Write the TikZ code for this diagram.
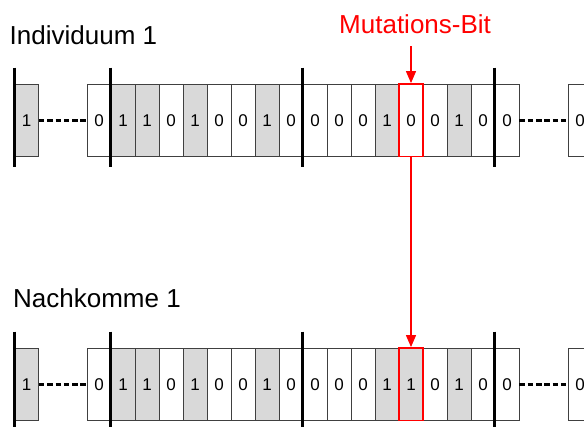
\documentclass[tikz,border=0pt]{standalone}
\usepackage{fontspec}
\setmainfont{Liberation Sans}
\usetikzlibrary{arrows.meta}

\definecolor{bitgrey}{RGB}{217,217,217}

\begin{document}
\begin{tikzpicture}[
x=1pt, y=1pt,
cell/.style={
rectangle,
draw=black!75,
line width=0.8pt,
minimum width=24pt,
minimum height=72.5pt,
inner sep=0 pt,
font=\fontsize{17}{20}\selectfont,
},
bit0/.style={fill=white},
bit1/.style={fill=bitgrey},
locus/.style={line width=3pt},
gap/.style={line width=2.6pt, dash pattern=on 5.5pt off 2.8pt},
mut/.style={
draw=red,
line width=1.8pt,
minimum width=24pt,
minimum height=72.5pt,
inner sep=0 pt,
},
mutarrow/.style={red, line width=1.2pt, -{Triangle[length=12pt, width=10pt]}},
title/.style={anchor=base west, inner sep=0 pt, font=\fontsize{26}{30}\selectfont},
]

\useasboundingbox (0,0) rectangle (584,-427);

% both chromosomes: parent (i) and offspring (n)
\foreach \row/\y/\bits in {
i/-120.25/{0,1,1,0,1,0,0,1,0,0,0,0,1,0,0,1,0,0},
n/-384.25/{0,1,1,0,1,0,0,1,0,0,0,0,1,1,0,1,0,0}}
{
% outer genes
\node[cell, bit1] (\row L) at (26.5,\y) {1};
\node[cell, bit0] (\row R) at (580,\y) {0};

% gene string
\foreach \b [count=\k from 0] in \bits
\node[cell, bit\b] (\row\k) at (99+24*\k,\y) {\b};

% left out parts
\draw[gap] (\row L) -- (\row 0);
\draw[gap] (\row 17) -- (\row R);

% gene boundaries
\foreach \c in {L,1,9,17}
\draw[locus] ([yshift=16pt]\row\c.north west) -- ([yshift=-10pt]\row\c.south west);
}

% flipped bit
\node[mut] (mut1) at (i13) {};
\node[mut] (mut2) at (n13) {};

% labels
\node[title] (ind) at (9.5,-45) {Individuum 1};
\node[title] (nach) at (13,-308) {Nachkomme 1};
\node[title, text=red, inner ysep=12pt] (mutlabel) at (339,-34) {Mutations-Bit};

\draw[mutarrow] (mutlabel.south -| mut1.north) -- (mut1.north);
\draw[mutarrow] (mut1) -- (mut2);

\end{tikzpicture}
\end{document}
